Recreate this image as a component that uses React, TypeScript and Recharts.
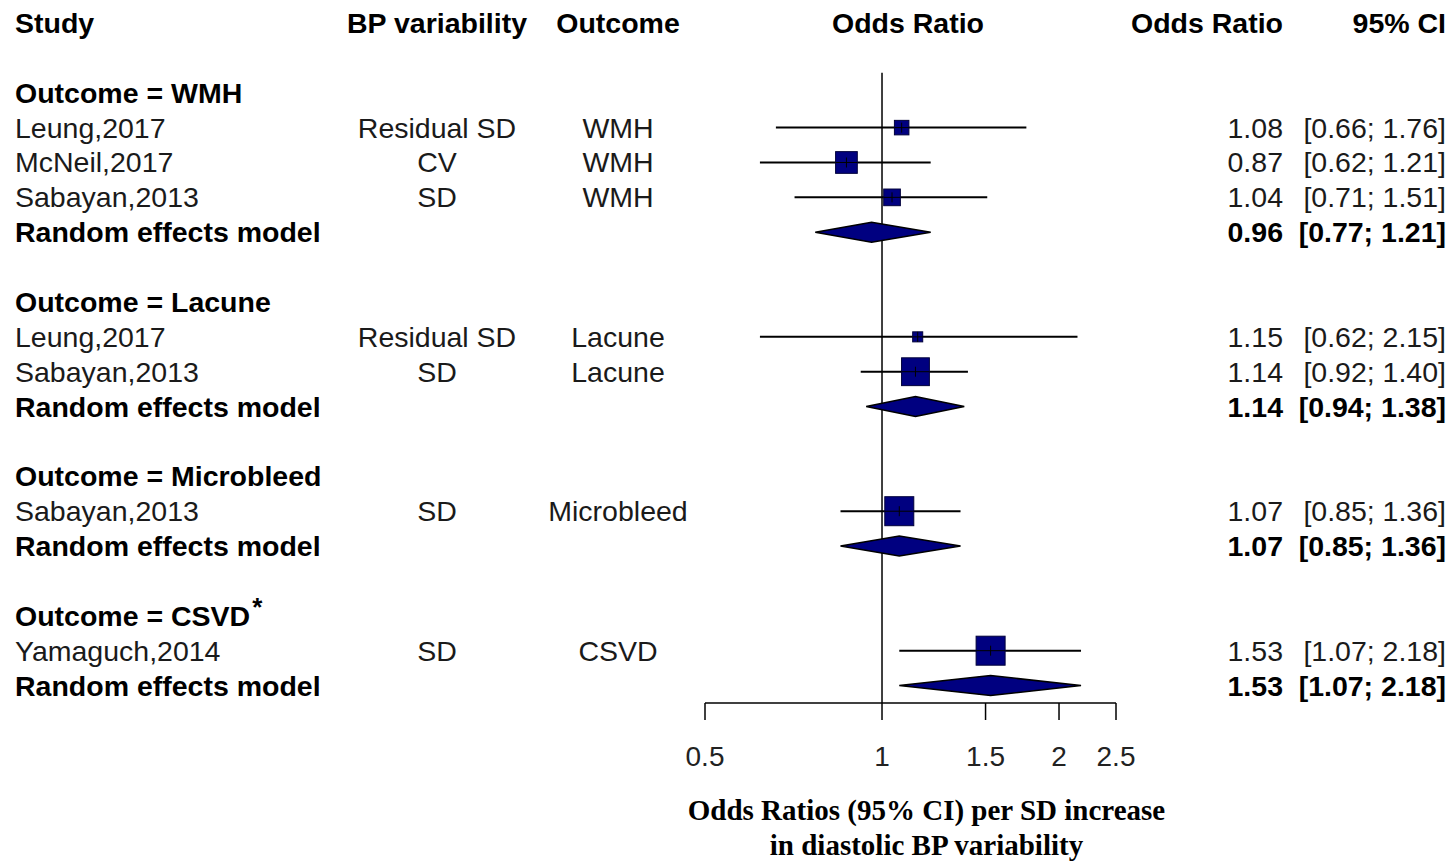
import React from 'react';
import { ComposedChart, Scatter, XAxis, YAxis, ReferenceLine } from 'recharts';

// subgroups
const groupNames = ['WMH', 'Lacune', 'Microbleed', 'CSVD'];
const groupNotes = ['', '', '', '*'];

// individual studies
const studyNames = ['Leung,2017', 'McNeil,2017', 'Sabayan,2013', 'Leung,2017', 'Sabayan,2013', 'Sabayan,2013', 'Yamaguch,2014'];
const studyGroup = [0, 0, 0, 1, 1, 2, 3];
const studyBp = ['Residual SD', 'CV', 'SD', 'Residual SD', 'SD', 'SD', 'SD'];
const studyOutcome = ['WMH', 'WMH', 'WMH', 'Lacune', 'Lacune', 'Microbleed', 'CSVD'];
const studyOr = [1.08, 0.87, 1.04, 1.15, 1.14, 1.07, 1.53];
const studyLower = [0.66, 0.62, 0.71, 0.62, 0.92, 0.85, 1.07];
const studyUpper = [1.76, 1.21, 1.51, 2.15, 1.4, 1.36, 2.18];
const studyWeight = [25, 56, 33, 12, 92, 100, 100]; // % weight within subgroup

// random effects model per subgroup
const pooledOr = [0.96, 1.14, 1.07, 1.53];
const pooledLower = [0.77, 0.94, 0.85, 1.07];
const pooledUpper = [1.21, 1.38, 1.36, 2.18];

const xTicks = [0.5, 1, 1.5, 2, 2.5];
const xTitle = ['Odds Ratios (95% CI) per SD increase', 'in diastolic BP variability'];

const NAVY = '#000080';
const SANS = '"Liberation Sans", Arial, sans-serif';
const FS = 28.5;
const BOX_MAX = 29;
const DIAMOND_H = 10;

type Row = { kind: 'title' | 'blank' | 'group' | 'study' | 'pooled'; index: number };

// lay out rows: column titles, blank, then group / studies / pooled / blank
const rows: Row[] = [{ kind: 'title', index: -1 }, { kind: 'blank', index: -1 }];
groupNames.forEach((_, gi) => {
  rows.push({ kind: 'group', index: gi });
  studyGroup.forEach((g, si) => {
    if (g === gi) rows.push({ kind: 'study', index: si });
  });
  rows.push({ kind: 'pooled', index: gi });
  if (gi < groupNames.length - 1) rows.push({ kind: 'blank', index: -1 });
});
const rowOf = (kind: Row['kind'], index: number) => rows.findIndex(r => r.kind === kind && r.index === index);

const studySeries = studyNames.map((_, si) => {
  const y = rowOf('study', si);
  return [
    { x: studyLower[si], y },
    { x: studyOr[si], y },
    { x: studyUpper[si], y }
  ];
});
const pooledSeries = groupNames.map((_, gi) => {
  const y = rowOf('pooled', gi);
  return [
    { x: pooledLower[gi], y },
    { x: pooledOr[gi], y },
    { x: pooledUpper[gi], y }
  ];
});

const hidden = () => <g />;

const studyMark = (si: number) => (props: any) => {
  const [a, m, b] = props.points;
  const s = BOX_MAX * Math.sqrt(studyWeight[si] / 100);
  return (
    <g>
      <line x1={a.x} x2={b.x} y1={a.y} y2={b.y} stroke="#000" strokeWidth={2} />
      <rect x={m.x - s / 2} y={m.y - s / 2} width={s} height={s} fill={NAVY} stroke="#00003a" strokeWidth={1} />
      <line x1={m.x - s / 2} x2={m.x + s / 2} y1={m.y} y2={m.y} stroke="#000" strokeWidth={1} />
      <line x1={m.x} x2={m.x} y1={m.y - 5} y2={m.y + 5} stroke="#000" strokeWidth={1} />
    </g>
  );
};

const diamondMark = (props: any) => {
  const [a, m, b] = props.points;
  const pts = `${a.x},${a.y} ${m.x},${m.y - DIAMOND_H} ${b.x},${b.y} ${m.x},${m.y + DIAMOND_H}`;
  return <polygon points={pts} fill={NAVY} stroke="#000" strokeWidth={1.5} strokeLinejoin="miter" />;
};

const RowTick = (props: any) => {
  const { y, payload } = props;
  const row = rows[payload.value];
  if (!row) return null;
  const base = y + 10;
  const reg = { fontFamily: SANS, fontSize: FS, fill: '#1a1a1a' };
  const bold = { fontFamily: SANS, fontSize: FS, fill: '#000', fontWeight: 'bold' as const };
  if (row.kind === 'title') {
    return (
      <g>
        <text x={15} y={base} {...bold}>Study</text>
        <text x={437} y={base} textAnchor="middle" {...bold}>BP variability</text>
        <text x={618} y={base} textAnchor="middle" {...bold}>Outcome</text>
        <text x={908} y={base} textAnchor="middle" {...bold}>Odds Ratio</text>
        <text x={1283} y={base} textAnchor="end" {...bold}>Odds Ratio</text>
        <text x={1446} y={base} textAnchor="end" {...bold}>95% CI</text>
      </g>
    );
  }
  if (row.kind === 'group') {
    return (
      <text x={15} y={base} {...bold}>
        <tspan>{`Outcome = ${groupNames[row.index]}`}</tspan>
        {groupNotes[row.index] && <tspan dx={2} dy={-10} fontSize={26}>{groupNotes[row.index]}</tspan>}
      </text>
    );
  }
  if (row.kind === 'study') {
    const i = row.index;
    return (
      <g>
        <text x={15} y={base} {...reg}>{studyNames[i]}</text>
        <text x={437} y={base} textAnchor="middle" {...reg}>{studyBp[i]}</text>
        <text x={618} y={base} textAnchor="middle" {...reg}>{studyOutcome[i]}</text>
        <text x={1283} y={base} textAnchor="end" {...reg}>{studyOr[i].toFixed(2)}</text>
        <text x={1446} y={base} textAnchor="end" {...reg}>{`[${studyLower[i].toFixed(2)}; ${studyUpper[i].toFixed(2)}]`}</text>
      </g>
    );
  }
  if (row.kind === 'pooled') {
    const i = row.index;
    return (
      <g>
        <text x={15} y={base} {...bold}>Random effects model</text>
        <text x={1283} y={base} textAnchor="end" {...bold}>{pooledOr[i].toFixed(2)}</text>
        <text x={1446} y={base} textAnchor="end" {...bold}>{`[${pooledLower[i].toFixed(2)}; ${pooledUpper[i].toFixed(2)}]`}</text>
      </g>
    );
  }
  return null;
};

const XTick = (props: any) => {
  const { x, y, payload } = props;
  return (
    <text x={x} y={y + 44} textAnchor="middle" fontFamily={SANS} fontSize={28} fill="#222">
      {payload.value}
    </text>
  );
};

const XTitle = (props: any) => {
  const vb = props.viewBox || { x: 0, y: 0, width: 0 };
  const cx = vb.x + vb.width / 2 + 16;
  return (
    <g>
      {xTitle.map((t, i) => (
        <text key={i} x={cx} y={vb.y + 117 + i * 35} textAnchor="middle"
          fontFamily='"Liberation Serif", "Times New Roman", serif' fontWeight="bold" fontSize={29} fill="#000">
          {t}
        </text>
      ))}
    </g>
  );
};

export default function App() {
  return (
    <div style={{ position: 'absolute', left: 0, top: 0, width: 1455, height: 861, background: '#fff' }}>
      <ComposedChart width={1455} height={861} margin={{ top: 23, right: 339, bottom: 0, left: 0 }}>
        <XAxis
          dataKey="x"
          type="number"
          scale="log"
          domain={[0.5, 2.5]}
          allowDataOverflow
          ticks={xTicks}
          interval={0}
          height={158}
          tickSize={17}
          axisLine={{ stroke: '#000', strokeWidth: 1.5 }}
          tickLine={{ stroke: '#000', strokeWidth: 1.5 }}
          tick={<XTick />}
          label={<XTitle />}
        />
        <YAxis
          dataKey="y"
          type="number"
          domain={[0, 19.5]}
          reversed
          allowDataOverflow
          ticks={rows.map((_, i) => i)}
          interval={0}
          width={705}
          axisLine={false}
          tickLine={false}
          tick={<RowTick />}
        />
        <ReferenceLine
          segment={[{ x: 1, y: 1.43 }, { x: 1, y: 19.5 }]}
          stroke="#000"
          strokeWidth={1.5}
          ifOverflow="visible"
        />
        {studySeries.map((d, si) => (
          <Scatter key={`s${si}`} data={d} line={studyMark(si)} shape={hidden} isAnimationActive={false} legendType="none" />
        ))}
        {pooledSeries.map((d, gi) => (
          <Scatter key={`p${gi}`} data={d} line={diamondMark} shape={hidden} isAnimationActive={false} legendType="none" />
        ))}
      </ComposedChart>
    </div>
  );
}
